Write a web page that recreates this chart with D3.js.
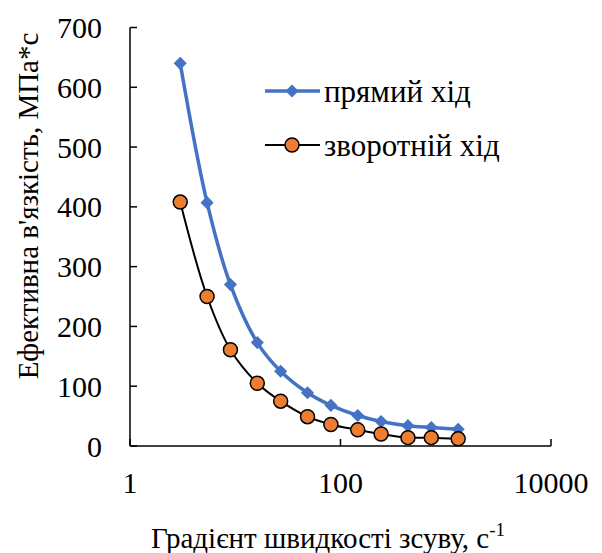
<!DOCTYPE html>
<html><head><meta charset="utf-8">
<script src="https://cdn.jsdelivr.net/npm/d3@7/dist/d3.min.js"></script>
</head><body style="margin:0">
<div id="wrap" style="width:602px;height:553px;font-family:'Liberation Serif',serif">
<svg id="chart" width="602" height="553" font-family="Liberation Serif" style="font-family:'Liberation Serif',serif"></svg>
</div>
<script>
const shearRate = [3, 5.4, 9, 16.2, 27, 48.6, 81, 145.8, 243, 437.4, 729, 1312];
const forward = [640, 407, 270, 173, 125, 89, 68, 51, 41, 34, 31, 28];
const reverse = [408, 250, 161, 105, 75, 49, 36, 27, 20, 14, 14, 12];
const seriesNames = ["прямий хід", "зворотній хід"];
const xTicks = [1, 100, 10000];
const yTicks = [0, 100, 200, 300, 400, 500, 600, 700];
const xTitle = "Градієнт швидкості зсуву, с";
const yTitle = "Ефективна в'язкість, МПа*с";

const svg = d3.select("#chart");
const T = (sel) => sel.append("text").attr("font-family", "Liberation Serif");
const x = d3.scaleLog().domain([1, 10000]).range([130, 551]);
const y = d3.scaleLinear().domain([0, 700]).range([446, 27.5]);

// axes
const g = svg.append("g");
g.append("line").attr("x1", 130).attr("x2", 130).attr("y1", y(700)).attr("y2", y(0)).attr("stroke", "#000").attr("stroke-width", 1.5);
g.append("line").attr("x1", 130).attr("x2", x(10000)).attr("y1", y(0)).attr("y2", y(0)).attr("stroke", "#000").attr("stroke-width", 1.5);
yTicks.forEach(v => {
  g.append("line").attr("x1", 130).attr("x2", 137).attr("y1", y(v)).attr("y2", y(v)).attr("stroke", "#000").attr("stroke-width", 1.5);
  T(g).attr("x", 102).attr("y", y(v) + 10.5).attr("text-anchor", "end").attr("font-size", 30).text(v);
});
xTicks.forEach(v => {
  g.append("line").attr("x1", x(v)).attr("x2", x(v)).attr("y1", y(0)).attr("y2", y(0) - 7).attr("stroke", "#000").attr("stroke-width", 1.5);
  T(g).attr("x", x(v)).attr("y", 493).attr("text-anchor", "middle").attr("font-size", 30).text(v);
});
const xt = T(svg).attr("x", 328).attr("y", 548).attr("text-anchor", "middle").attr("font-size", 29);
xt.append("tspan").text(xTitle);
xt.append("tspan").attr("dy", -12).attr("font-size", 19).text("-1");
T(svg).attr("transform", "translate(38,206) rotate(-90)").attr("text-anchor", "middle").attr("font-size", 29).text(yTitle);

const line = d3.line().x(d => x(d[0])).y(d => y(d[1])).curve(d3.curveCatmullRom.alpha(0.5));
const fData = shearRate.map((s, i) => [s, forward[i]]);
const rData = shearRate.map((s, i) => [s, reverse[i]]);

svg.append("path").attr("d", line(fData)).attr("fill", "none").attr("stroke", "#4472C4").attr("stroke-width", 3.5);
const diamond = d3.symbol().type(d3.symbolDiamond2).size(110);
svg.selectAll(".dm").data(fData).enter().append("path")
  .attr("transform", d => `translate(${x(d[0])},${y(d[1])})`).attr("d", diamond).attr("fill", "#4472C4");

svg.append("path").attr("d", line(rData)).attr("fill", "none").attr("stroke", "#000").attr("stroke-width", 2);
svg.selectAll(".ci").data(rData).enter().append("circle")
  .attr("cx", d => x(d[0])).attr("cy", d => y(d[1])).attr("r", 7)
  .attr("fill", "#ED7D31").attr("stroke", "#000").attr("stroke-width", 1.5);

// legend
const lg = svg.append("g");
lg.append("line").attr("x1", 265).attr("x2", 320).attr("y1", 91).attr("y2", 91).attr("stroke", "#4472C4").attr("stroke-width", 3.5);
lg.append("path").attr("transform", "translate(292,91)").attr("d", diamond).attr("fill", "#4472C4");
T(lg).attr("x", 324).attr("y", 102).attr("font-size", 31).text(seriesNames[0]);
lg.append("line").attr("x1", 265).attr("x2", 320).attr("y1", 145).attr("y2", 145).attr("stroke", "#000").attr("stroke-width", 2);
lg.append("circle").attr("cx", 292).attr("cy", 145).attr("r", 7).attr("fill", "#ED7D31").attr("stroke", "#000").attr("stroke-width", 1.5);
T(lg).attr("x", 324).attr("y", 156).attr("font-size", 31).text(seriesNames[1]);
</script>
</body></html>
